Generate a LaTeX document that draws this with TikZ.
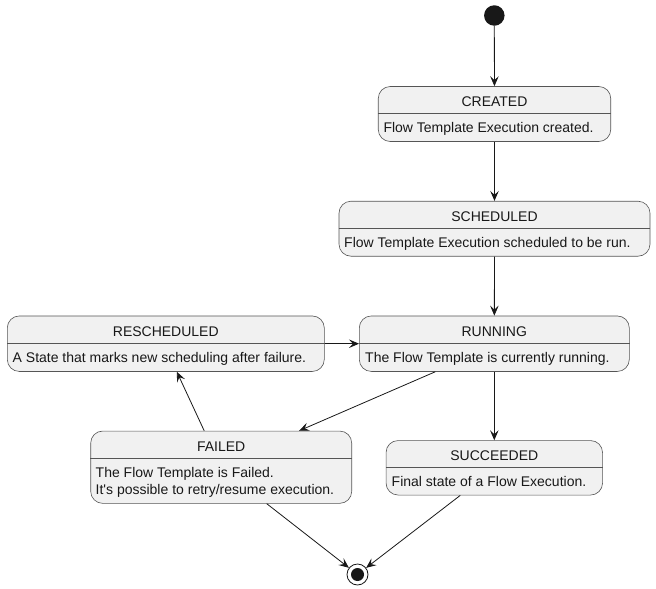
\documentclass[tikz,border=0pt]{standalone}
\usepackage{fontspec}
\setmainfont{Liberation Sans}
\usetikzlibrary{arrows.meta,calc}
\definecolor{boxfill}{HTML}{F1F1F1}
\definecolor{boxline}{HTML}{555555}
\definecolor{ink}{HTML}{181818}
\begin{document}
\begin{tikzpicture}[x=1pt,y=-1pt,
  statebox/.style={draw=boxline,fill=boxfill,line width=0.6pt,rounded corners=12pt,inner sep=0pt},
  divl/.style={draw=boxline,line width=0.6pt},
  ttl/.style={anchor=base,inner sep=0pt,font=\fontsize{14}{16.5}\selectfont,text=ink},
  dsc/.style={anchor=base west,inner sep=0pt,font=\fontsize{14}{16.5}\selectfont,text=ink},
  arr/.style={draw=ink,line width=0.8pt,-{Stealth[length=10pt,width=8.5pt,inset=4pt]}}
]
\useasboundingbox (0,0) rectangle (656,589);

% start
\node[circle,fill=ink,inner sep=0pt,minimum size=20.5pt] (start) at (494.3,15.5) {};

% CREATED
\node[statebox,minimum width=232.5pt,minimum height=55pt] (created) at (494.5,114) {};
\draw[divl] (created.west |- 0,113.3) -- (created.east |- 0,113.3);
\node[ttl] (createdT) at (494.5,106) {CREATED};
\node[dsc] (createdD) at (383.3,132.7) {Flow Template Execution created.};

% SCHEDULED
\node[statebox,minimum width=311pt,minimum height=55pt] (sched) at (494.5,228.7) {};
\draw[divl] (sched.west |- 0,228.3) -- (sched.east |- 0,228.3);
\node[ttl] (schedT) at (494.5,221) {SCHEDULED};
\node[dsc] (schedD) at (344,247.5) {Flow Template Execution scheduled to be run.};

% RUNNING
\node[statebox,minimum width=270pt,minimum height=55.5pt] (running) at (494.3,343.7) {};
\draw[divl] (running.west |- 0,343.3) -- (running.east |- 0,343.3);
\node[ttl] (runningT) at (494.3,336) {RUNNING};
\node[dsc] (runningD) at (365,362.5) {The Flow Template is currently running.};

% RESCHEDULED
\node[statebox,minimum width=317pt,minimum height=55.5pt] (resch) at (165.8,343.7) {};
\draw[divl] (resch.west |- 0,343.3) -- (resch.east |- 0,343.3);
\node[ttl] (reschT) at (165.8,336) {RESCHEDULED};
\node[dsc] (reschD) at (12.5,362.5) {A State that marks new scheduling after failure.};

% FAILED
\node[statebox,minimum width=261pt,minimum height=72.3pt] (failed) at (221.2,467.2) {};
\draw[divl] (failed.west |- 0,458.3) -- (failed.east |- 0,458.3);
\node[ttl] (failedT) at (221.2,451) {FAILED};
\node[dsc] (failedD1) at (95.5,477.5) {The Flow Template is Failed.};
\node[dsc] (failedD2) at (95.5,494.5) {It\textquotesingle s possible to retry/resume execution.};

% SUCCEEDED
\node[statebox,minimum width=216.5pt,minimum height=54.5pt] (succ) at (494.3,467.8) {};
\draw[divl] (succ.west |- 0,467.5) -- (succ.east |- 0,467.5);
\node[ttl] (succT) at (494.3,460) {SUCCEEDED};
\node[dsc] (succD) at (391.5,486.5) {Final state of a Flow Execution.};

% end
\node[circle,draw=ink,line width=0.8pt,fill=white,inner sep=0pt,minimum size=21pt] (endc) at (357.5,574.5) {};
\node[circle,fill=ink,inner sep=0pt,minimum size=13pt] (endin) at (endc.center) {};

% connectors
\draw[arr] (start) -- (created);
\draw[arr] (created) -- (sched);
\draw[arr] (sched) -- (running);
\draw[arr] (resch) -- (running);
\draw[arr] (running) -- (succ);
\draw[arr] ([xshift=-59pt]running.south) -- ([xshift=78pt]failed.north);
\draw[arr] ([xshift=-17pt]failed.north) -- ([xshift=11pt]resch.south);
\draw[arr] ([xshift=45.5pt]failed.south) -- (endc);
\draw[arr] ([xshift=-34pt]succ.south) -- (endc);
\end{tikzpicture}
\end{document}
